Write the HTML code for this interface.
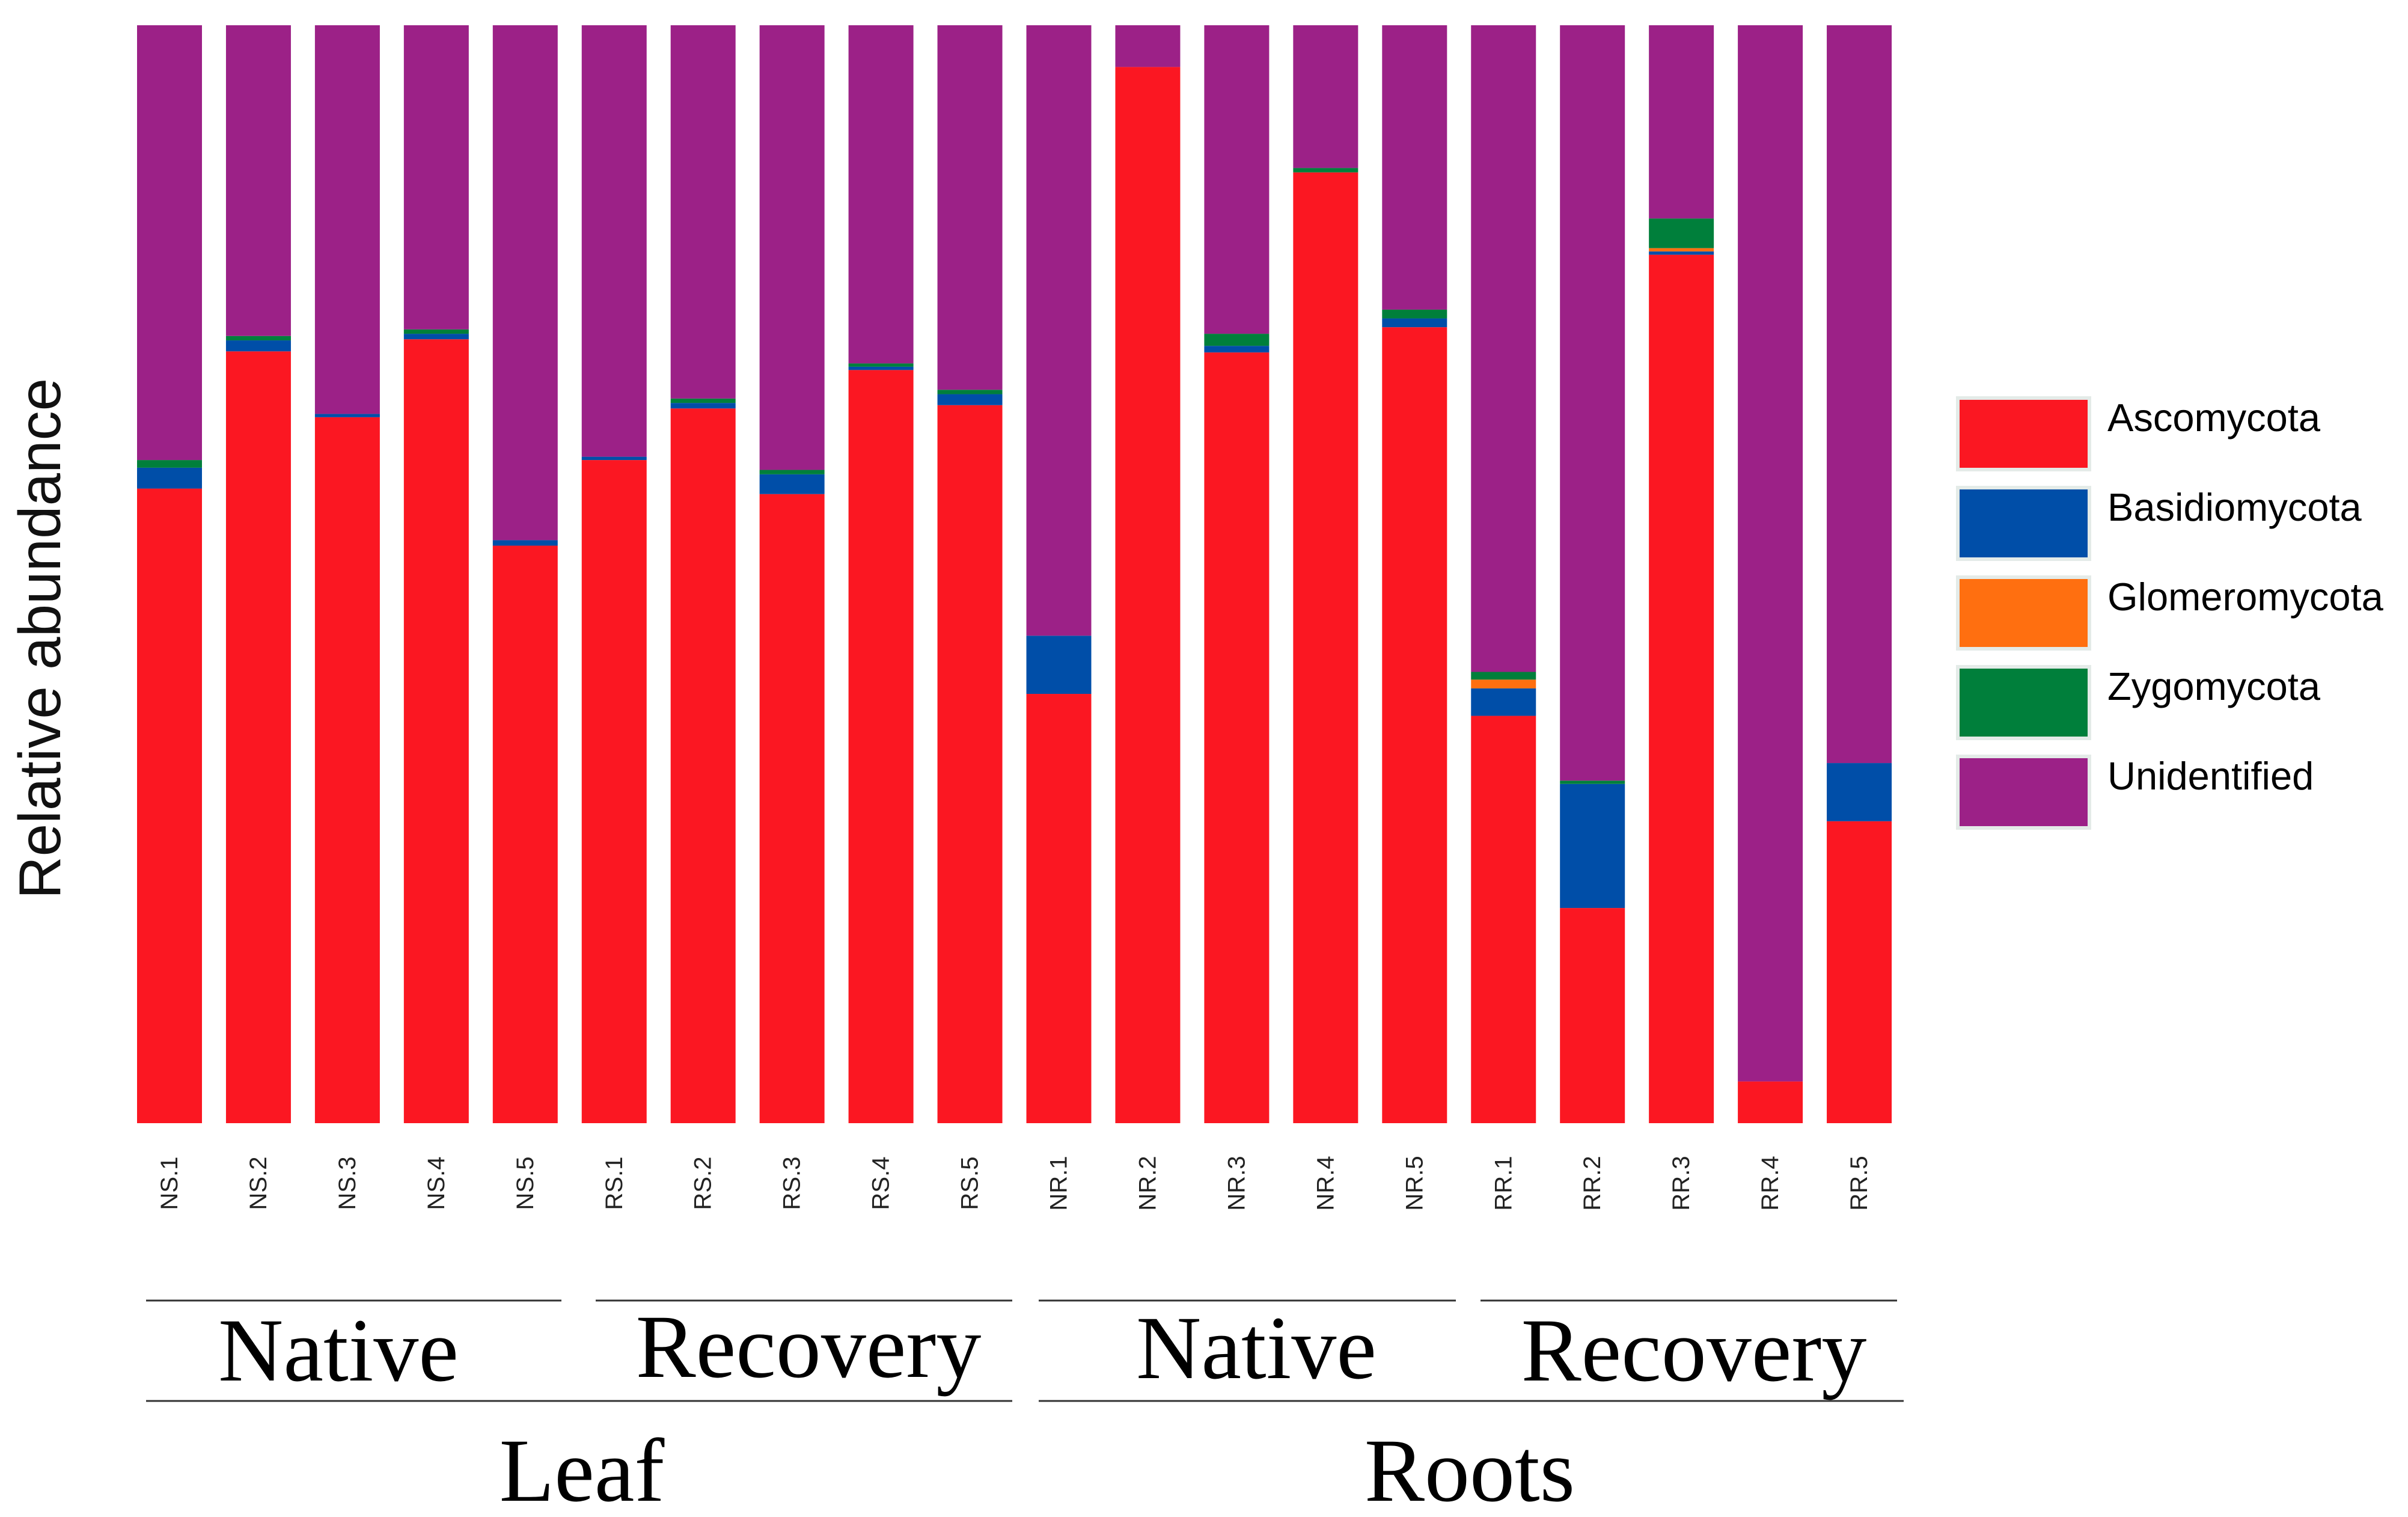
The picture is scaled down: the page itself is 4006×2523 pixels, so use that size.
<!DOCTYPE html>
<html><head><meta charset="utf-8"><style>
html,body{margin:0;padding:0;background:#fff;}
svg{display:block;}
</style></head><body>
<svg id="chart" width="4006" height="2523" viewBox="0 0 4006 2523" xmlns="http://www.w3.org/2000/svg">
<g id="bars"></g>
<g id="ticks"></g>
<text x="0" y="0" transform="translate(100,1062) rotate(-90)" text-anchor="middle" font-family="Liberation Sans, sans-serif" font-size="98" fill="#111">Relative abundance</text>
<g font-family="Liberation Serif, serif" fill="#000" text-anchor="middle">
<line x1="243" y1="2163" x2="934" y2="2163" stroke="#333" stroke-width="3"/>
<line x1="991" y1="2163" x2="1684" y2="2163" stroke="#333" stroke-width="3"/>
<line x1="1728" y1="2163" x2="2422" y2="2163" stroke="#333" stroke-width="3"/>
<line x1="2463" y1="2163" x2="3156" y2="2163" stroke="#333" stroke-width="3"/>
<line x1="243" y1="2330" x2="1684" y2="2330" stroke="#333" stroke-width="3"/>
<line x1="1728" y1="2330" x2="3167" y2="2330" stroke="#333" stroke-width="3"/>
<text x="563" y="2296" font-size="150">Native</text>
<text x="1345" y="2290" font-size="150">Recovery</text>
<text x="2090" y="2292" font-size="150">Native</text>
<text x="2818" y="2296" font-size="150">Recovery</text>
<text x="968" y="2496" font-size="150">Leaf</text>
<text x="2445" y="2496" font-size="150">Roots</text>
</g>
<g id="legend"></g>
</svg>
<script>
const categories = ["NS.1","NS.2","NS.3","NS.4","NS.5","RS.1","RS.2","RS.3","RS.4","RS.5","NR.1","NR.2","NR.3","NR.4","NR.5","RR.1","RR.2","RR.3","RR.4","RR.5"];
const ascomycota    = [0.578,0.703,0.643,0.714,0.526,0.604,0.651,0.573,0.686,0.654,0.391,0.962,0.702,0.866,0.725,0.371,0.196,0.791,0.038,0.275];
const basidiomycota = [0.019,0.010,0.003,0.005,0.005,0.003,0.005,0.018,0.003,0.010,0.053,0.000,0.006,0.000,0.008,0.025,0.113,0.003,0.000,0.053];
const glomeromycota = [0,0,0,0,0,0,0,0,0,0,0,0,0,0,0,0.008,0,0.003,0,0];
const zygomycota    = [0.007,0.004,0,0.004,0,0,0.004,0.004,0.003,0.004,0,0,0.011,0.004,0.008,0.007,0.003,0.027,0,0];
const seriesNames = ["Ascomycota","Basidiomycota","Glomeromycota","Zygomycota","Unidentified"];
const seriesColors = ["#fb1722","#004ea8","#ff6f10","#007f3b","#9c2187"];

const NS = "http://www.w3.org/2000/svg";
const x0 = 228, pitch = 147.95, bw = 108, yBase = 1868, yTop = 42;
function xPos(i){ return x0 + i*pitch; }
function yScale(v){ return yBase - v*(yBase - yTop); }

const barsG = document.getElementById('bars');
const ticksG = document.getElementById('ticks');
categories.forEach((c,i)=>{
  const unid = Math.max(0, 1 - ascomycota[i] - basidiomycota[i] - glomeromycota[i] - zygomycota[i]);
  const vals = [ascomycota[i], basidiomycota[i], glomeromycota[i], zygomycota[i], unid];
  let cum = 0;
  vals.forEach((v,k)=>{
    if (v <= 0) return;
    const r = document.createElementNS(NS,'rect');
    const yt = yScale(cum+v), yb = yScale(cum);
    r.setAttribute('x', xPos(i));
    r.setAttribute('y', yt);
    r.setAttribute('width', bw);
    r.setAttribute('height', yb-yt);
    r.setAttribute('fill', seriesColors[k]);
    
    
    barsG.appendChild(r);
    cum += v;
  });
  const t = document.createElementNS(NS,'text');
  const cx = xPos(i) + bw/2 + 13;
  t.setAttribute('transform', 'translate(' + cx + ',1968) rotate(-90)');
  t.setAttribute('text-anchor', 'middle');
  t.setAttribute('font-family', 'Liberation Sans, sans-serif');
  t.setAttribute('font-size', '40');
  t.setAttribute('fill', '#222');
  t.textContent = c;
  
  
  ticksG.appendChild(t);
});

const legG = document.getElementById('legend');
seriesNames.forEach((n,k)=>{
  const y = 662 + k*149;
  const r = document.createElementNS(NS,'rect');
  r.setAttribute('x', 3257); r.setAttribute('y', y);
  r.setAttribute('width', 219); r.setAttribute('height', 119);
  r.setAttribute('fill', seriesColors[k]);
  r.setAttribute('stroke', '#e4ebe8'); r.setAttribute('stroke-width', '6');
  
  
  legG.appendChild(r);
  const t = document.createElementNS(NS,'text');
  t.setAttribute('x', 3506); t.setAttribute('y', y + 55);
  t.setAttribute('font-family', 'Liberation Sans, sans-serif');
  t.setAttribute('font-size', '65');
  t.setAttribute('fill', '#000');
  t.textContent = n;
  
  
  legG.appendChild(t);
});
</script>
</body></html>
